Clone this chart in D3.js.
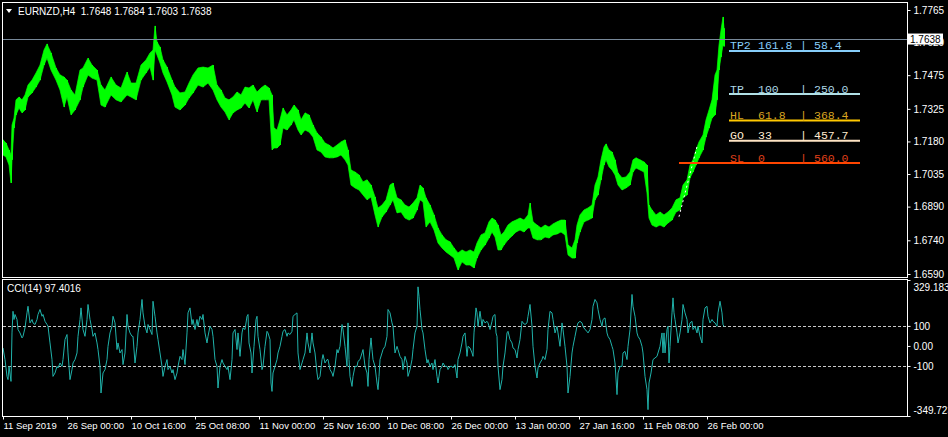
<!DOCTYPE html>
<html><head><meta charset="utf-8">
<script src="https://cdn.jsdelivr.net/npm/d3@7"></script>
<style>html,body{margin:0;padding:0;background:#000;overflow:hidden}</style>
</head><body>
<svg id="c" width="948" height="437"></svg>
<script>
// ---------- data ----------
const symbolTitle = "EURNZD,H4";
const ohlc = ["1.7648","1.7684","1.7603","1.7638"];
const lastPrice = 1.7638;
const priceTicks = [1.7765,1.7620,1.7475,1.7325,1.7180,1.7035,1.6890,1.6740,1.6590];
const priceIdx = [0,3,6,8,9,11,13,16,19,22,25,29,33,37,41,44,48,53,57,61,64,68,72,77,80,85,89,94,98,102,108,113,118,124,128,133,138,143,147,150,152,154,157,160,164,169,172,177,182,186,190,195,200,205,210,214,218,222,226,230,234,238,242,246,250,254,258,262,266,269,271,274,277,280,284,288,291,295,298,302,306,310,314,318,322,326,330,334,338,342,345,348,352,356,360,364,368,372,375,379,383,387,390,394,398,402,406,410,414,417,420,423,427,431,435,439,443,447,451,455,459,463,467,471,474,478,482,486,489,492,495,498,501,505,509,513,517,521,525,527,530,534,538,542,546,550,554,558,562,565,569,572,574,577,581,585,589,592,595,598,601,603,606,609,612,615,619,623,627,630,633,637,641,644,646,649,653,657,661,665,669,673,677,680,684,687,690,693,696,700,703,706,709,712,714,716,718,720,721];
const priceHigh = [1.7187,1.7173,1.7142,1.7120,1.7253,1.7284,1.7365,1.7378,1.7365,1.7387,1.7431,1.7453,1.7485,1.7520,1.7587,1.7614,1.7574,1.7507,1.7476,1.7467,1.7453,1.7409,1.7387,1.7498,1.7507,1.7551,1.7520,1.7498,1.7431,1.7409,1.7467,1.7431,1.7418,1.7489,1.7440,1.7440,1.7520,1.7543,1.7574,1.7587,1.7694,1.7623,1.7600,1.7543,1.7511,1.7453,1.7422,1.7396,1.7400,1.7440,1.7476,1.7507,1.7511,1.7507,1.7520,1.7431,1.7409,1.7373,1.7365,1.7378,1.7400,1.7387,1.7422,1.7418,1.7431,1.7400,1.7418,1.7431,1.7418,1.7387,1.7240,1.7231,1.7276,1.7329,1.7298,1.7320,1.7342,1.7320,1.7276,1.7307,1.7298,1.7253,1.7218,1.7200,1.7173,1.7164,1.7151,1.7164,1.7178,1.7187,1.7142,1.7053,1.7044,1.7031,1.7000,1.7009,1.6986,1.6933,1.6884,1.6897,1.6920,1.6986,1.6995,1.6929,1.6920,1.6897,1.6888,1.6906,1.6929,1.6986,1.6973,1.6929,1.6897,1.6853,1.6795,1.6764,1.6742,1.6733,1.6706,1.6684,1.6697,1.6688,1.6697,1.6688,1.6728,1.6764,1.6773,1.6822,1.6839,1.6830,1.6808,1.6764,1.6777,1.6808,1.6822,1.6830,1.6839,1.6830,1.6853,1.6906,1.6822,1.6808,1.6795,1.6808,1.6799,1.6813,1.6822,1.6830,1.6830,1.6719,1.6706,1.6742,1.6808,1.6853,1.6875,1.6884,1.6897,1.6986,1.7022,1.7098,1.7155,1.7169,1.7142,1.7133,1.7098,1.7040,1.7018,1.7022,1.7044,1.7098,1.7107,1.7098,1.7089,1.7075,1.6897,1.6875,1.6853,1.6866,1.6853,1.6866,1.6884,1.6920,1.6929,1.6986,1.7009,1.7075,1.7098,1.7142,1.7178,1.7209,1.7276,1.7320,1.7365,1.7476,1.7498,1.7609,1.7676,1.7734,1.7684];
const priceLow = [1.7120,1.7111,1.7075,1.6995,1.7098,1.7240,1.7298,1.7329,1.7307,1.7320,1.7378,1.7396,1.7422,1.7453,1.7520,1.7551,1.7498,1.7453,1.7409,1.7333,1.7378,1.7298,1.7320,1.7365,1.7422,1.7476,1.7462,1.7453,1.7342,1.7333,1.7387,1.7365,1.7356,1.7387,1.7378,1.7365,1.7453,1.7485,1.7511,1.7453,1.7587,1.7565,1.7529,1.7485,1.7445,1.7387,1.7333,1.7320,1.7342,1.7373,1.7396,1.7431,1.7422,1.7440,1.7409,1.7365,1.7333,1.7311,1.7276,1.7307,1.7320,1.7329,1.7351,1.7329,1.7365,1.7311,1.7365,1.7365,1.7365,1.7142,1.7151,1.7151,1.7164,1.7240,1.7231,1.7253,1.7276,1.7231,1.7209,1.7231,1.7222,1.7200,1.7142,1.7133,1.7111,1.7107,1.7107,1.7111,1.7120,1.7098,1.7075,1.6986,1.6973,1.6964,1.6942,1.6920,1.6933,1.6853,1.6799,1.6844,1.6866,1.6897,1.6920,1.6862,1.6866,1.6839,1.6830,1.6839,1.6875,1.6920,1.6911,1.6799,1.6822,1.6786,1.6728,1.6706,1.6688,1.6675,1.6661,1.6608,1.6644,1.6630,1.6630,1.6617,1.6661,1.6697,1.6719,1.6750,1.6777,1.6755,1.6697,1.6697,1.6719,1.6742,1.6759,1.6777,1.6786,1.6777,1.6795,1.6795,1.6750,1.6742,1.6742,1.6755,1.6750,1.6764,1.6768,1.6777,1.6764,1.6675,1.6661,1.6661,1.6728,1.6777,1.6822,1.6830,1.6839,1.6920,1.6942,1.7009,1.7075,1.7098,1.7067,1.7053,1.7031,1.6986,1.6964,1.6973,1.6986,1.7044,1.7062,1.7053,1.7044,1.6951,1.6839,1.6808,1.6799,1.6808,1.6799,1.6817,1.6830,1.6866,1.6875,1.6929,1.6942,1.7018,1.7044,1.7075,1.7107,1.7142,1.7200,1.7240,1.7284,1.7298,1.7365,1.7498,1.7556,1.7609,1.7603];
const cciIdx = [0,2,4,5,6,8,9,10,11,12,14,15,17,19,20,22,24,25,27,29,30,32,34,35,37,39,40,42,44,45,47,49,50,52,54,55,57,59,60,62,64,65,67,69,70,72,74,75,77,78,80,82,84,85,87,89,90,92,94,95,97,98,100,102,104,105,107,109,110,112,114,115,117,119,120,122,124,125,127,129,130,132,134,135,137,139,140,142,144,145,147,149,150,152,154,155,157,159,160,162,164,165,167,169,170,172,174,175,177,179,180,182,184,185,187,189,190,192,194,195,197,199,200,202,204,205,207,209,210,212,214,215,217,219,220,222,224,225,227,229,230,232,234,235,237,239,240,242,244,245,246,248,249,251,253,254,255,257,259,260,262,264,265,267,268,269,270,272,274,275,277,279,280,282,284,285,287,289,290,292,294,295,297,299,300,302,304,305,307,309,310,312,314,315,317,319,320,322,324,325,327,329,330,332,334,335,337,339,340,342,344,345,346,347,349,350,352,354,355,357,359,360,362,364,365,366,368,369,370,372,374,375,376,377,379,380,382,384,385,387,389,390,392,394,395,397,399,400,402,404,405,407,409,410,412,414,415,416,417,419,420,422,424,425,427,429,430,432,434,435,437,439,440,442,444,445,447,449,450,452,454,455,457,459,460,462,464,465,467,469,470,471,473,474,475,477,479,480,482,484,485,487,489,490,492,493,494,495,497,499,500,502,504,505,507,509,510,512,514,515,517,519,520,522,524,525,527,529,530,532,534,535,537,539,540,542,544,545,547,549,550,552,554,555,557,559,560,562,564,565,567,569,570,572,574,575,577,579,580,582,584,585,587,589,590,592,594,595,597,599,600,602,604,605,607,609,610,612,614,615,617,619,620,622,624,625,627,629,630,632,634,635,637,639,640,642,644,645,646,648,649,650,652,654,655,657,659,660,661,662,664,665,666,667,669,670,671,672,674,675,677,679,680,682,684,685,687,689,690,692,694,695,697,699,700,702,704,705,707,709,710,712,714,715,717,719,720,721];
const cciVal = [-10,-68,-152,-168,-102,-177,65,173,132,157,132,82,65,40,48,90,165,198,115,132,115,107,132,157,182,148,157,123,107,98,15,-68,-152,-135,-102,-110,-85,-102,-68,32,57,-35,-168,-118,-85,-68,-35,48,132,190,82,48,132,207,132,82,48,65,15,-18,-102,-235,-135,-118,-68,-2,65,98,148,115,-18,15,-35,-18,-93,-35,157,98,65,48,48,-85,-2,65,132,232,165,98,65,107,82,57,223,148,65,32,-35,-102,-152,-102,-68,-118,-102,-135,-118,-168,-135,-102,-52,-68,-18,-93,65,165,190,107,132,82,132,98,148,132,157,65,15,48,98,82,48,-68,-102,-210,-102,-68,-85,-102,-118,-102,-168,-68,65,82,-18,65,-52,65,90,82,148,157,15,-35,-135,-2,132,148,48,-18,-118,-102,-2,73,65,32,-185,-227,-135,-102,-68,-35,-2,48,73,82,48,65,57,73,148,157,165,-35,-118,-85,-68,-35,65,15,-35,65,15,-35,-135,-168,-152,-68,-43,-85,-68,-68,-118,-135,-152,-102,-18,-35,-2,107,82,-2,-102,115,-68,-152,-202,-152,-102,-102,-77,-68,-35,-18,-102,-135,-202,-68,40,-18,-68,-102,-185,-218,-152,-68,-35,-18,-2,48,182,165,115,98,-35,-2,-18,-52,-68,-118,-52,-85,-152,-118,-68,-18,65,98,295,248,182,82,65,-18,-85,-68,-102,-85,-118,-68,-152,-185,-118,-102,-85,-102,-102,-118,-102,-102,-110,-93,-160,-68,-35,15,48,65,-52,-2,-10,-35,-52,65,190,165,98,173,98,132,115,123,115,82,123,148,157,65,48,-102,-218,-168,-102,-35,65,73,32,15,-10,-18,-60,-18,32,123,115,107,115,148,207,98,-2,-102,-160,-110,-85,-68,-52,-68,-18,82,173,165,132,65,98,65,-2,115,82,-2,-102,-235,-152,-35,-2,48,98,115,123,115,98,82,73,65,82,132,198,232,215,182,132,98,132,140,65,48,32,-2,-18,-85,-243,-135,-102,-102,-35,-27,-68,-2,82,257,198,148,65,48,32,-2,-35,-152,-218,-318,-185,-135,-102,-68,-60,-52,-35,-2,65,-35,65,-35,82,98,-85,-2,165,240,165,132,65,15,65,132,207,165,132,65,115,123,82,98,65,98,48,15,132,190,198,148,115,132,123,115,98,165,223,165,107,97.4016];
const cciName = "CCI(14) 97.4016";
const cciTicks = [329.1836,100,0,-100,-349.7237];
const cciTickLabels = ["329.1836","100","0.00","-100","-349.7237"];
const timeIdx = [0,64,128,192,256,320,384,448,512,576,640,704];
const timeLabels = ["11 Sep 2019","26 Sep 00:00","10 Oct 16:00","25 Oct 08:00","11 Nov 00:00","25 Nov 16:00","10 Dec 08:00","26 Dec 00:00","13 Jan 00:00","27 Jan 16:00","11 Feb 08:00","26 Feb 00:00"];
const levelNames = ["TP2","TP","HL","GO","SL"];
const levelFib = ["161.8","100","61.8","33","0"];
const levelPips = ["58.4","250.0","368.4","457.7","560.0"];
const levelPrice = [1.7583,1.7391,1.7273,1.7183,1.7084];
const levelStart = [726,726,726,726,676];
const levelEnd = 857;
const levelLine = ["#87CEFA","#B0E0E6","#FFC800","#FFE4C4","#FF4500"];
const levelText = ["#87CEFA","#ADD8E6","#DAA520","#FFEBD0","#E0401A"];
const trendIdx = [676,694];
const trendVal = [1.6845,1.7157];

// ---------- drawing ----------
const svg = d3.select("#c");
svg.append("rect").attr("width",948).attr("height",437).attr("fill","#000");

const x = d3.scaleLinear().domain([0,904]).range([3,907]);
const yP = d3.scaleLinear().domain([1.6590,1.7765]).range([274,10]);
const yC = d3.scaleLinear().domain([-349.7237,329.1836]).range([416,280]);

const defs = svg.append("defs");
defs.append("clipPath").attr("id","cp1").append("rect").attr("x",3).attr("y",3).attr("width",904).attr("height",274);
defs.append("clipPath").attr("id","cp2").append("rect").attr("x",3).attr("y",280).attr("width",904).attr("height",136);

const font = "'Liberation Sans', Arial, sans-serif";

// main panel
const g1 = svg.append("g").attr("clip-path","url(#cp1)");
const bars = priceIdx.map((d,i)=>({i:d,h:priceHigh[i],l:priceLow[i]}));
const area = d3.area().x(d=>x(d.i)).y0(d=>yP(d.l)).y1(d=>yP(d.h));
g1.append("path").datum(bars).attr("d",area).attr("fill","#00FF00").attr("stroke","#00FF00").attr("stroke-width",0.7);
// bar ticks for texture
g1.selectAll("line.bar").data(bars).join("line").attr("class","bar")
  .attr("x1",d=>Math.round(x(d.i))+0.5).attr("x2",d=>Math.round(x(d.i))+0.5)
  .attr("y1",d=>yP(d.h)).attr("y2",d=>yP(d.l)).attr("stroke","#00FF00").attr("stroke-width",1);

// last price line
g1.append("line").attr("x1",2).attr("x2",907).attr("y1",Math.round(yP(lastPrice))+0.5).attr("y2",Math.round(yP(lastPrice))+0.5)
  .attr("stroke","#778899").attr("stroke-width",1);

// trend dashed
g1.append("path").datum(trendIdx.map((d,i)=>[x(d),yP(trendVal[i])]))
  .attr("d",d3.line()).attr("stroke","#fff").attr("stroke-width",1).attr("stroke-dasharray","2,3").attr("fill","none");

// levels
levelNames.forEach((n,k)=>{
  const yy = yP(levelPrice[k]);
  g1.append("line").attr("x1",x(levelStart[k])).attr("x2",x(levelEnd)).attr("y1",yy).attr("y2",yy)
    .attr("stroke",levelLine[k]).attr("stroke-width",2);
  const x0 = x(levelStart[0]) + 1;
  const tg = g1.append("g").attr("font-family","'Liberation Mono', 'DejaVu Sans Mono', monospace").attr("font-size","11.5px").attr("fill",levelText[k]);
  tg.append("text").attr("x",x0).attr("y",yy-1.5).text(n);
  tg.append("text").attr("x",x0+28).attr("y",yy-1.5).text(levelFib[k]);
  tg.append("text").attr("x",x0+70).attr("y",yy-1.5).text("|");
  tg.append("text").attr("x",x0+84).attr("y",yy-1.5).text(levelPips[k]);
});

// frames
svg.append("rect").attr("x",2.5).attr("y",2.5).attr("width",905).attr("height",275).attr("fill","none").attr("stroke","#fff");
svg.append("rect").attr("x",2.5).attr("y",279.5).attr("width",905).attr("height",137).attr("fill","none").attr("stroke","#fff");

// header
svg.append("path").attr("d","M6,9L12,9L9,13Z").attr("fill","#fff");
svg.append("text").attr("x",18).attr("y",14.5).attr("font-family",font).attr("font-size","10px").attr("fill","#fff")
  .style("white-space","pre").text(symbolTitle + "  " + ohlc.join(" "));

// price axis
const ax1 = svg.append("g").attr("transform","translate(907.5,0)")
  .call(d3.axisRight(yP).tickValues(priceTicks).tickSize(3).tickPadding(3).tickFormat(d3.format(".4f")));
ax1.select(".domain").remove();
ax1.selectAll("line").attr("stroke","#fff");
ax1.selectAll("text").attr("fill","#fff").attr("font-family",font).attr("font-size","10px");

// last price box
const ly = yP(lastPrice);
svg.append("rect").attr("x",908).attr("y",ly-5).attr("width",35).attr("height",11).attr("fill","#fff");
svg.append("text").attr("x",910).attr("y",ly+4).attr("font-family",font).attr("font-size","10px").attr("fill","#000").text(lastPrice.toFixed(4));

// CCI panel
const g2 = svg.append("g").attr("clip-path","url(#cp2)");
[100,-100].forEach(v=>{
  g2.append("line").attr("x1",3).attr("x2",907).attr("y1",Math.round(yC(v))+0.5).attr("y2",Math.round(yC(v))+0.5)
    .attr("stroke","#c8c8c8").attr("stroke-dasharray","3,2");
});
g2.append("path").datum(cciIdx.map((d,i)=>[x(d),yC(cciVal[i])])).attr("d",d3.line())
  .attr("fill","none").attr("stroke","#20B2AA").attr("stroke-width",1);
svg.append("text").attr("x",7).attr("y",291.5).attr("font-family",font).attr("font-size","10px").attr("fill","#fff").text(cciName);

const ax2 = svg.append("g").attr("transform","translate(907.5,0)")
  .call(d3.axisRight(yC).tickValues(cciTicks).tickSize(3).tickPadding(3).tickFormat((d,i)=>cciTickLabels[i]));
ax2.select(".domain").remove();
ax2.selectAll("line").attr("stroke","#fff");
ax2.selectAll("text").attr("fill","#fff").attr("font-family",font).attr("font-size","10px")
  .attr("dy",(d,i)=> i===0 ? "1.0em" : (i===cciTicks.length-1 ? "-0.3em" : "0.32em"));

// time axis
const ax3 = svg.append("g").attr("transform","translate(0,416.5)")
  .call(d3.axisBottom(x).tickValues(timeIdx).tickSize(3).tickPadding(3).tickFormat((d,i)=>timeLabels[i]));
ax3.select(".domain").remove();
ax3.selectAll("line").attr("stroke","#fff");
ax3.selectAll("text").attr("fill","#fff").attr("font-family",font).attr("font-size","9.5px").attr("text-anchor","start");
</script>
</body></html>
